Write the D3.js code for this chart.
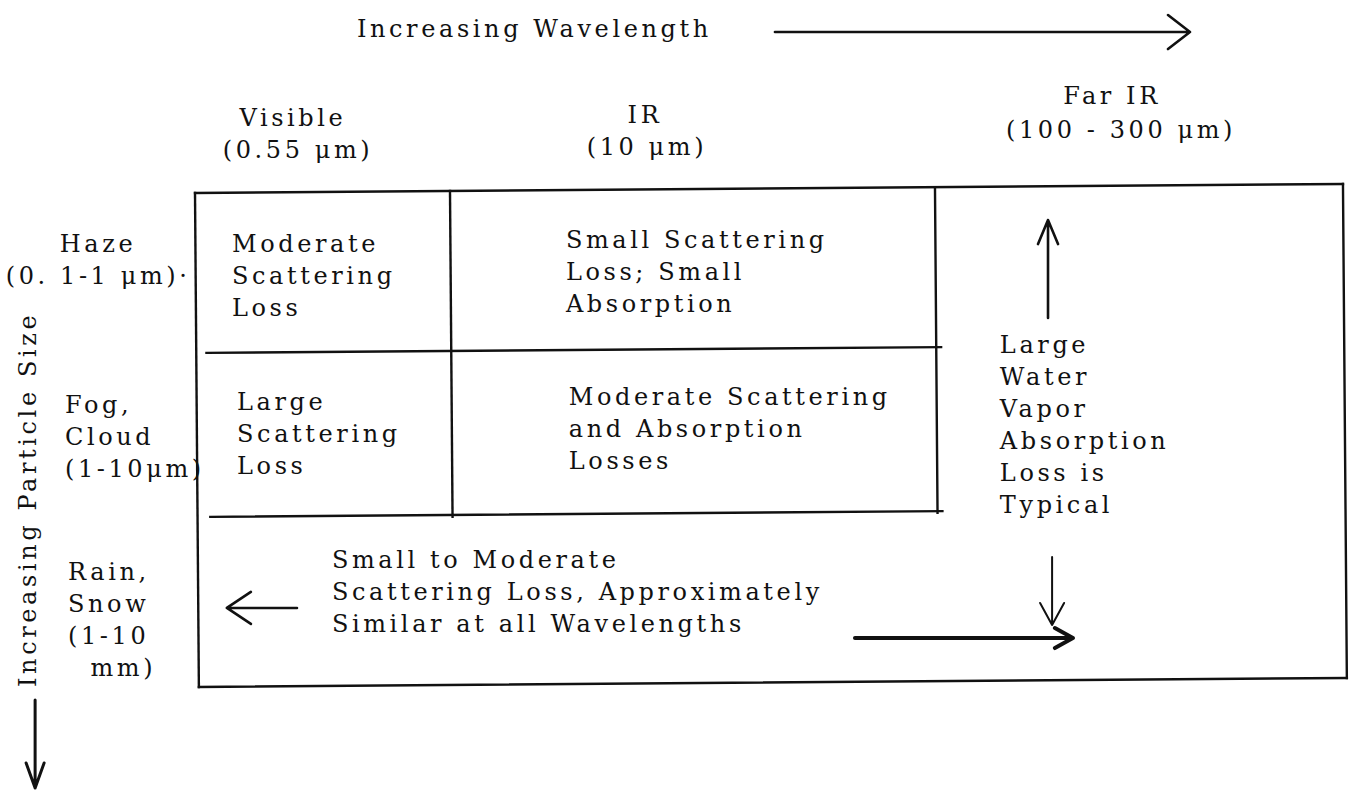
<!DOCTYPE html>
<html>
<head>
<meta charset="utf-8">
<script src="https://cdn.jsdelivr.net/npm/d3@7"></script>
<style>
  body { margin: 0; background: #fff; }
  text { font-family: "DejaVu Serif", serif; font-size: 24px; letter-spacing: 3.6px; fill: #111; white-space: pre; }
</style>
</head>
<body>
<div id="chart"></div>
<script>
// wavelength columns and particle-size rows
var columns = ["Visible", "IR", "Far IR"];
var columnRanges = ["(0.55 \u03bcm)", "(10 \u03bcm)", "(100 - 300 \u03bcm)"];
var rowLabels = [
  ["Haze", "(0. 1-1 \u03bcm)\u00b7"],
  ["Fog,", "Cloud", "(1-10\u03bcm)"],
  ["Rain,", "Snow", "(1-10", "  mm)"]
];
var cellTexts = [
  ["Moderate", "Scattering", "Loss"],
  ["Small Scattering", "Loss; Small", "Absorption"],
  ["Large", "Scattering", "Loss"],
  ["Moderate Scattering", "and Absorption", "Losses"],
  ["Small to Moderate", "Scattering Loss, Approximately", "Similar at all Wavelengths"],
  ["Large", "Water", "Vapor", "Absorption", "Loss is", "Typical"]
];
var xTitle = "Increasing Wavelength";
var yTitle = "Increasing Particle Size";

var width = 1351, height = 791;
var lineHeight = 32;

var svg = d3.select("#chart").append("svg")
    .attr("width", width)
    .attr("height", height);

// grid units -> pixels (column and row boundaries)
var x = d3.scaleLinear().domain([0, 1, 2, 3]).range([195, 450, 935, 1343]);
var y = d3.scaleLinear().domain([0, 1, 2, 3]).range([193, 353, 517, 687]);

// table rules, in grid units
var rules = [
  [0, 0, 3, 0], [3, 0, 3, 3], [3, 3, 0, 3], [0, 3, 0, 0],
  [1, 0, 1, 2.01], [2, 0, 2, 2.01],
  [0.04, 1, 2.012, 1], [0.05, 2, 2.012, 2]
];

var grid = svg.append("g")
    .attr("transform", "rotate(-0.45," + x(0) + "," + y(0) + ")");
grid.selectAll("line").data(rules).enter().append("line")
    .attr("x1", function(d) { return x(d[0]); })
    .attr("y1", function(d) { return y(d[1]); })
    .attr("x2", function(d) { return x(d[2]); })
    .attr("y2", function(d) { return y(d[3]); })
    .attr("stroke", "#111")
    .attr("stroke-width", 2.4)
    .attr("stroke-linecap", "square");

// text blocks: [lines, gx, gy, anchor]
var blocks = [
  [[xTitle], 0.635, -0.975, "start"],
  [[columns[0]], 0.384, -0.42, "middle"],
  [[columnRanges[0]], 0.404, -0.22, "middle"],
  [[columns[1]], 1.402, -0.435, "middle"],
  [[columnRanges[1]], 1.406, -0.236, "middle"],
  [[columns[2]], 2.434, -0.555, "middle"],
  [[columnRanges[2]], 2.456, -0.345, "middle"],
  [rowLabels[0], -0.38, 0.369, "middle"],
  [rowLabels[1], -0.51, 1.366, "start"],
  [rowLabels[2], -0.498, 2.371, "start"],
  [cellTexts[0], 0.145, 0.369, "start"],
  [cellTexts[1], 1.239, 0.344, "start"],
  [cellTexts[2], 0.165, 1.348, "start"],
  [cellTexts[3], 1.245, 1.317, "start"],
  [cellTexts[4], 0.537, 2.3, "start"],
  [cellTexts[5], 2.159, 1.0, "start"]
];

var block = svg.selectAll(".block").data(blocks).enter().append("text")
    .attr("class", "block")
    .attr("x", function(d) { return x(d[1]); })
    .attr("y", function(d) { return y(d[2]); })
    .attr("text-anchor", function(d) { return d[3]; });
block.selectAll("tspan").data(function(d) {
    return d[0].map(function(t, i) { return { t: t, i: i, d: d }; });
  }).enter().append("tspan")
    .attr("x", function(s) { return x(s.d[1]); })
    .attr("y", function(s) { return y(s.d[2]) + s.i * lineHeight; })
    .text(function(s) { return s.t; });

// vertical axis title, read bottom to top
svg.append("text")
    .attr("transform", "translate(" + x(-0.624) + "," + y(3) + ") rotate(-90)")
    .text(yTitle);

// arrows: [gx1, gy1, gx2, gy2, head length, head half width, stroke]
var arrows = [
  [1.670, -1.006, 2.625, -1.006, 22, 17, 2.6],
  [2.277, 0.781, 2.277, 0.169, 24, 10, 2.6],
  [2.287, 2.235, 2.287, 2.635, 22, 12, 2],
  [1.835, 2.712, 2.338, 2.712, 18, 10, 4],
  [0.4, 2.535, 0.125, 2.535, 24, 16, 2.6],
  [-0.627, 3.076, -0.627, 3.594, 25, 9, 3]
];

function arrowPath(d) {
  var x1 = x(d[0]), y1 = y(d[1]), x2 = x(d[2]), y2 = y(d[3]);
  var a = Math.atan2(y2 - y1, x2 - x1);
  var L = d[4], h = d[5];
  var bx = x2 - L * Math.cos(a), by = y2 - L * Math.sin(a);
  var nx = -Math.sin(a) * h, ny = Math.cos(a) * h;
  var p = d3.path();
  p.moveTo(x1, y1); p.lineTo(x2, y2);
  p.moveTo(bx + nx, by + ny); p.lineTo(x2, y2); p.lineTo(bx - nx, by - ny);
  return p.toString();
}

svg.selectAll(".arrow").data(arrows).enter().append("path")
    .attr("class", "arrow")
    .attr("d", arrowPath)
    .attr("fill", "none")
    .attr("stroke", "#111")
    .attr("stroke-width", function(d) { return d[6]; })
    .attr("stroke-linecap", "round")
    .attr("stroke-linejoin", "round");
</script>
</body>
</html>
